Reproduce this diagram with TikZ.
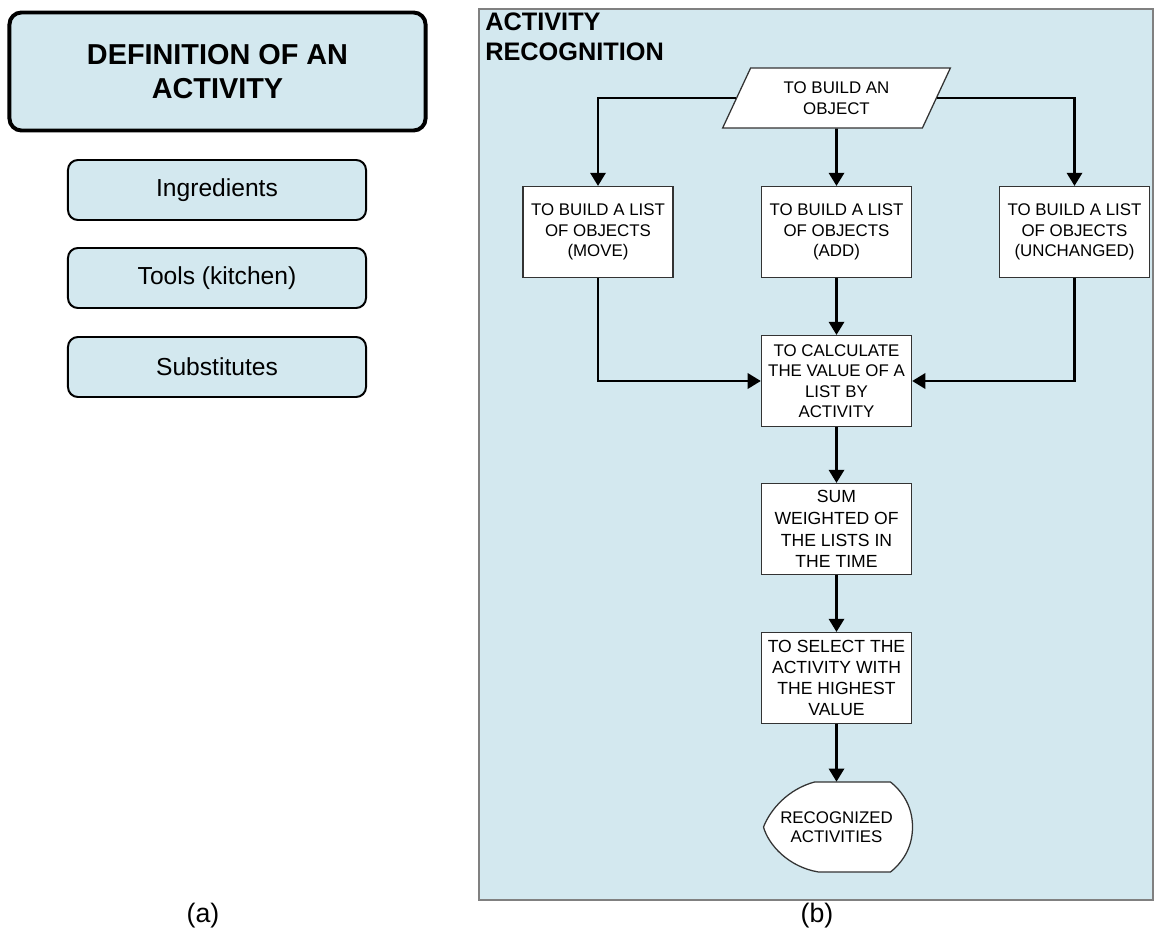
\documentclass[tikz,border=0pt]{standalone}
\usepackage{fontspec}
\setmainfont{Liberation Sans}
\usepackage{xcolor}
\definecolor{panel}{HTML}{D3E8EF}
\definecolor{edge}{HTML}{333333}
\usepackage{tikz}
\usetikzlibrary{arrows.meta, shapes.geometric, positioning, calc}

\begin{document}
\begin{tikzpicture}[x=0.025cm, y=-0.025cm, >={Triangle[length=0.33cm, width=0.38cm]},
  defbox/.style={draw=black, fill=panel, rounded corners=0.25cm, line width=1.4pt,
    minimum width=7.45cm, minimum height=1.5cm, font=\fontsize{17.5}{21}\selectfont},
  procbox/.style={draw=edge, fill=white, line width=0.9pt, minimum width=3.75cm,
    minimum height=2.27cm, inner sep=1pt, align=center, font=\fontsize{12}{14.6}\selectfont},
  flow/.style={->, line width=2pt}]

  \useasboundingbox (0,0) rectangle (1156,939);

  % Definicion (a)
  \node[draw=black, fill=panel, rounded corners=0.3cm, line width=2.8pt, minimum width=10.4cm,
    minimum height=2.95cm, align=center, font=\fontsize{20.5}{24}\selectfont\bfseries]
    (def) at (217.5,71.5) {DEFINITION OF AN\\ACTIVITY};
  \node[defbox] (ingr) at (217,190) {Ingredients};
  \node[defbox] (tools) at (217,278) {Tools (kitchen)};
  \node[defbox] (subst) at (217,367) {Substitutes};
  \node[font=\fontsize{19}{22}\selectfont] (capa) at (203,916) {(a)};

  % Reconocimiento (b)
  \fill[panel] (479,9) rectangle (1153,900);
  \draw[gray, line width=1pt] (479,9) rectangle (1153,900);
  \node[anchor=north west, inner sep=0pt, align=left, font=\fontsize{18}{21.3}\selectfont\bfseries]
    (rtitle) at (485,13) {ACTIVITY\\RECOGNITION};
  \node[font=\fontsize{19}{22}\selectfont] (capb) at (817,916) {(b)};

  \node[trapezium, trapezium left angle=63.4, trapezium right angle=116.6, trapezium stretches=true,
    draw=edge, fill=white, line width=0.9pt, minimum width=5.7cm, minimum height=1.5cm,
    inner sep=1pt, align=center, font=\fontsize{12}{14.6}\selectfont]
    (obj) at (836.5,98) {TO BUILD AN\\OBJECT};

  \node[procbox] (lmove) at (598,232) {TO BUILD A LIST\\OF OBJECTS\\(MOVE)};
  \node[procbox] (ladd) at (836.5,232) {TO BUILD A LIST\\OF OBJECTS\\(ADD)};
  \node[procbox] (lsame) at (1074.5,232) {TO BUILD A LIST\\OF OBJECTS\\(UNCHANGED)};
  \node[procbox] (calc) at (836.5,381) {TO CALCULATE\\THE VALUE OF A\\LIST BY\\ACTIVITY};
  \node[procbox, font=\fontsize{12.5}{15.5}\selectfont] (sum) at (836.5,529)
    {SUM\\WEIGHTED OF\\THE LISTS IN\\THE TIME};
  \node[procbox, font=\fontsize{12.5}{15}\selectfont] (sel) at (836.5,678)
    {TO SELECT THE\\ACTIVITY WITH\\THE HIGHEST\\VALUE};

  % display shape
  \begin{scope}[shift={(836.5,827)}]
    \draw[edge, fill=white, line width=0.9pt] (-22,-45) -- (54,-45)
      .. controls (70,-32) and (76,-16) .. (76,0)
      .. controls (76,16) and (70,32) .. (54,45) -- (-18,45)
      .. controls (-48,40) and (-68,18) .. (-73,0)
      .. controls (-66,-18) and (-48,-38) .. (-22,-45) -- cycle;
  \end{scope}
  \node[minimum height=2.25cm, minimum width=3.7cm, align=center, font=\fontsize{12}{13.2}\selectfont]
    (rec) at (836.5,827) {RECOGNIZED\\ACTIVITIES};

  % Flechas
  \draw[flow] (obj.left side) -| (lmove.north);
  \draw[flow] (obj.right side) -| (lsame.north);
  \draw[flow] (obj.south) -- (ladd.north);
  \draw[flow] (lmove.south) |- (calc.west);
  \draw[flow] (lsame.south) |- (calc.east);
  \draw[flow] (ladd.south) -- (calc.north);
  \draw[flow] (calc.south) -- (sum.north);
  \draw[flow] (sum.south) -- (sel.north);
  \draw[flow] (sel.south) -- (rec.north);

\end{tikzpicture}
\end{document}
